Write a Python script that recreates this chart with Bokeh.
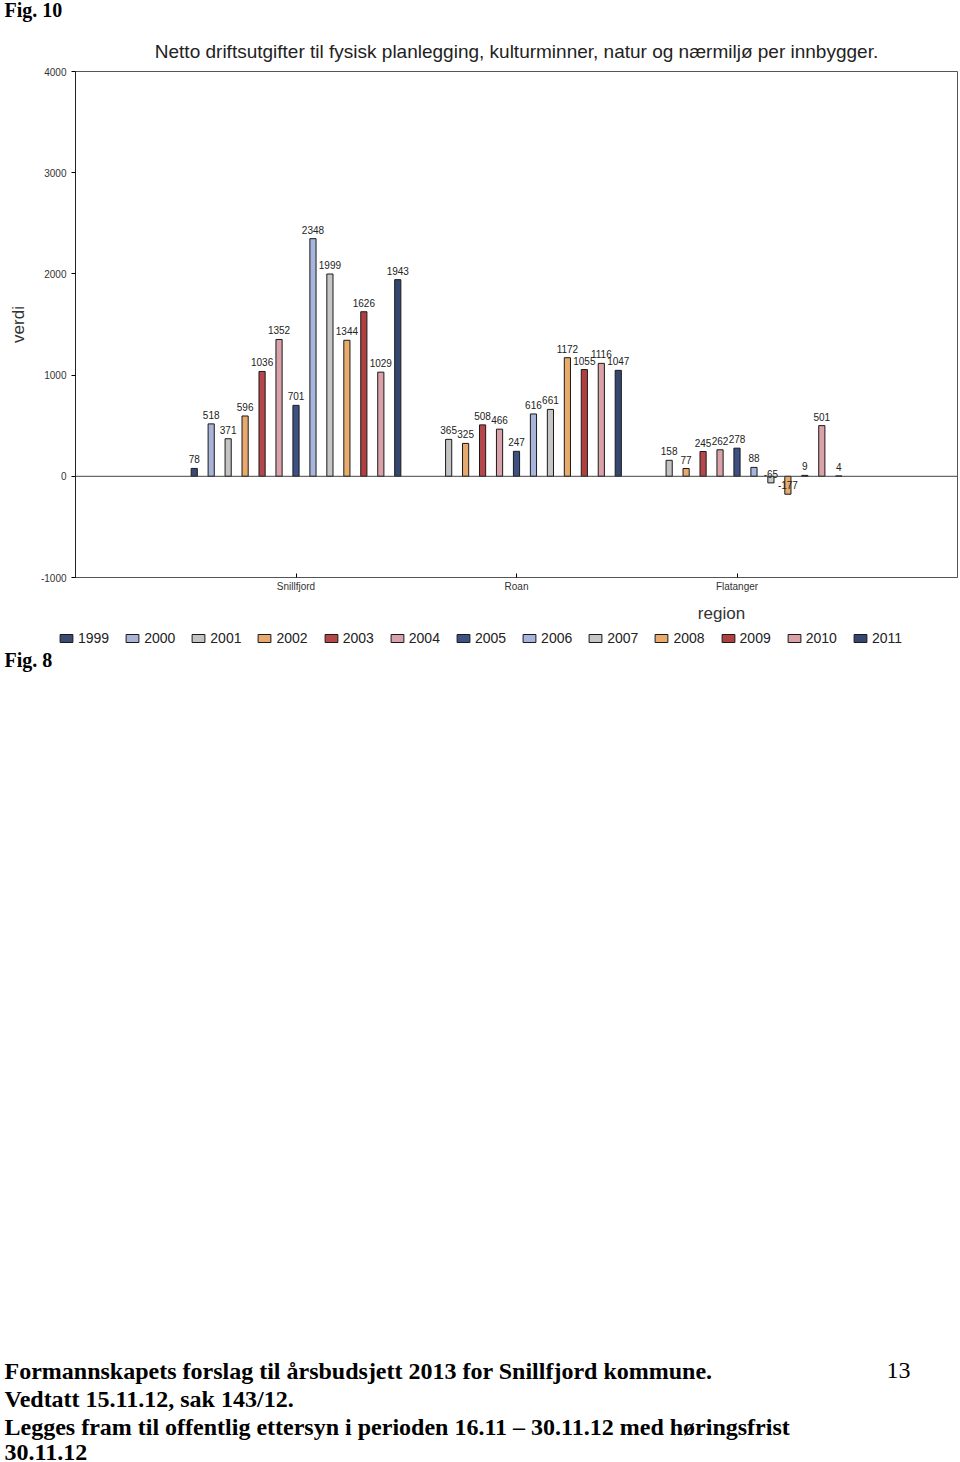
from bokeh.plotting import figure
from bokeh.models import (ColumnDataSource, FactorRange, Range1d, Span, Legend,
                          LegendItem, FixedTicker)
from bokeh.layouts import column
from bokeh.transform import dodge
from bokeh.core.properties import value
from bokeh.embed import file_html
from bokeh.resources import INLINE

# ---------------- data ----------------
regions = ["Snillfjord", "Roan", "Flatanger"]
years = ["1999", "2000", "2001", "2002", "2003", "2004", "2005",
         "2006", "2007", "2008", "2009", "2010", "2011"]
snillfjord = [78, 518, 371, 596, 1036, 1352, 701, 2348, 1999, 1344, 1626, 1029, 1943]
roan = [None, None, 365, 325, 508, 466, 247, 616, 661, 1172, 1055, 1116, 1047]
flatanger = [None, None, 158, 77, 245, 262, 278, 88, -65, -177, 9, 501, 4]
year_colors = ["#3a4a70", "#a9b3d8", "#c3c3c3", "#e8a96e", "#b5474a", "#d9a2aa",
               "#3d5183", "#a7b5dc", "#c6c6c6", "#e9ab6c", "#b0403f", "#dba1a9",
               "#35466f"]
y_ticks = [-1000, 0, 1000, 2000, 3000, 4000]

title_text = ("Netto driftsutgifter til fysisk planlegging, kulturminner, "
              "natur og nærmiljø per innbygger.")
x_title = "region"
y_title = "verdi"
fig_top_text = "Fig. 10"
fig_bottom_text = "Fig. 8"
footer_lines = [
    "Formannskapets forslag til årsbudsjett 2013 for Snillfjord kommune.",
    "Vedtatt 15.11.12, sak 143/12.",
    "Legges fram til offentlig ettersyn i perioden 16.11 \u2013 30.11.12 med høringsfrist",
    "30.11.12",
]
page_number = "13"

SANS = "Liberation Sans"
SERIF = "Liberation Serif"

W, PAGE_H = 960, 1462
FL, FR = 75, 957          # frame left/right on the page
FT, FB = 71, 577          # frame top/bottom on the page
TOP_END = 26              # band "Fig. 10"
CHART_END = 600           # chart block
MID_END = 650             # "region" + legend


def text_band(height):
    """A blank figure whose data units are page pixels (y downward)."""
    f = figure(width=W, height=height, x_range=Range1d(0, W),
               y_range=Range1d(height, 0), output_backend="svg",
               toolbar_location=None, x_axis_location=None, y_axis_location=None,
               min_border_left=0, min_border_right=0, min_border_top=0,
               min_border_bottom=0, frame_align=False)
    f.outline_line_color = None
    f.xgrid.visible = False
    f.ygrid.visible = False
    f.background_fill_color = "white"
    f.border_fill_color = "white"
    return f


# ---------------- top band ----------------
top = text_band(TOP_END)
top.text(x=[4], y=[9], text=[fig_top_text], text_font=value(SERIF),
         text_font_size="20px", text_font_style="bold", text_color="black",
         text_baseline="middle", text_align="left")

# ---------------- chart ----------------
p = figure(width=W, height=CHART_END - TOP_END,
           x_range=FactorRange(factors=regions, range_padding=0.5,
                               range_padding_units="absolute"),
           y_range=(-1000, 4000),
           output_backend="svg", toolbar_location=None, frame_align=False,
           min_border_left=FL, min_border_right=W - FR,
           min_border_top=FT - TOP_END, min_border_bottom=CHART_END - FB,
           title=title_text)

p.background_fill_color = "white"
p.border_fill_color = "white"
p.outline_line_color = "#555555"
p.xgrid.visible = False
p.ygrid.visible = False

p.title.text_font = SANS
p.title.text_font_size = "19px"
p.title.text_font_style = "normal"
p.title.text_color = "#222222"
p.title.align = "center"
p.title.standoff = 19

ya = p.yaxis[0]
ya.ticker = FixedTicker(ticks=y_ticks)
ya.major_label_overrides = {t: str(t) for t in y_ticks}
ya.axis_line_color = "#222222"
ya.major_tick_in = 0
ya.major_tick_out = 4
ya.minor_tick_line_color = None
ya.major_label_text_font = SANS
ya.major_label_text_font_size = "10px"
ya.major_label_text_color = "#333333"
ya.axis_label = y_title
ya.axis_label_text_font = SANS
ya.axis_label_text_font_size = "17px"
ya.axis_label_text_font_style = "normal"
ya.axis_label_text_color = "#333333"
ya.axis_label_standoff = 10

xa = p.xaxis[0]
xa.axis_line_color = "#555555"
xa.major_tick_in = 4
xa.major_tick_out = 0
xa.major_label_standoff = 3
xa.major_label_text_font = SANS
xa.major_label_text_font_size = "10px"
xa.major_label_text_color = "#333333"

p.add_layout(Span(location=0, dimension="width", line_color="#444444", line_width=1))

n = len(years)
for i, yr in enumerate(years):
    regs, vals = [], []
    for reg, series in zip(regions, [snillfjord, roan, flatanger]):
        v = series[i]
        if v is not None:
            regs.append(reg)
            vals.append(v)
    src = ColumnDataSource(dict(region=regs, val=vals, txt=[str(v) for v in vals]))
    off = (i - (n - 1) / 2) / n
    p.vbar(x=dodge("region", off, range=p.x_range), top="val", bottom=0,
           width=0.028, source=src, fill_color=year_colors[i],
           line_color="#1a1a1a", line_width=1)
    p.text(x=dodge("region", off, range=p.x_range), y="val", text="txt",
           source=src, text_font=value(SANS), text_font_size="10px",
           text_align="center", text_baseline="alphabetic", y_offset=-9,
           text_color="#222222")

# ---------------- middle band: axis title + legend ----------------
mid_h = MID_END - CHART_END
mid = text_band(mid_h)
mid.text(x=[721], y=[613 - CHART_END], text=[x_title], text_font=value(SANS),
         text_font_size="17px", text_color="#333333", text_align="center",
         text_baseline="middle")
items = []
nan = float("nan")
for i, yr in enumerate(years):
    # legend-only renderer (a single NaN bar draws nothing in the band)
    r = mid.vbar(x=[nan], top=[nan], width=1, fill_color=year_colors[i],
                 line_color="#1a1a1a", line_width=1)
    items.append(LegendItem(label=yr, renderers=[r]))
legend = Legend(items=items, orientation="horizontal",
                location=(58, MID_END - 646),
                border_line_color=None, background_fill_alpha=0, padding=0,
                margin=0, spacing=15, label_standoff=4, glyph_width=16,
                glyph_height=10, label_height=17, label_text_font=SANS,
                label_text_font_size="14px", label_text_color="#222222")
mid.add_layout(legend)

# ---------------- footer ----------------
foot = text_band(PAGE_H - MID_END)
y0 = MID_END
foot.text(x=[4], y=[659 - y0], text=[fig_bottom_text], text_font=value(SERIF),
          text_font_size="20px", text_font_style="bold", text_color="black",
          text_baseline="middle", text_align="left")
foot.text(x=[4] * len(footer_lines),
          y=[1370 - y0, 1398 - y0, 1426 - y0, 1452 - y0],
          text=footer_lines, text_font=value(SERIF), text_font_size="24px",
          text_font_style="bold", text_color="black",
          text_baseline="middle", text_align="left")
foot.text(x=[898], y=[1370 - y0], text=[page_number], text_font=value(SERIF),
          text_font_size="24px", text_color="black",
          text_baseline="middle", text_align="center")

layout = column(top, p, mid, foot, spacing=0)
open("out.html", "w").write(file_html(layout, INLINE))
